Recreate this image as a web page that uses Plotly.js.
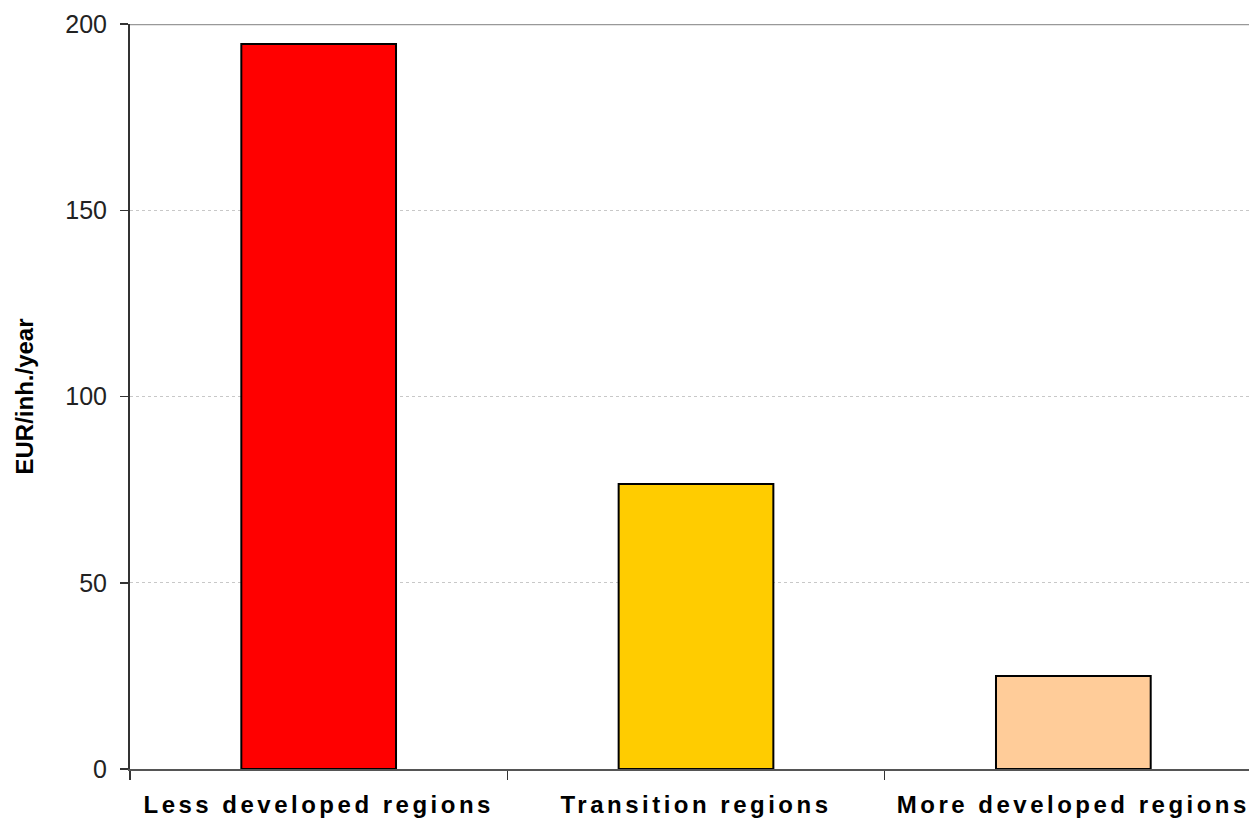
<!DOCTYPE html>
<html>
<head>
<meta charset="utf-8">
<script src="https://cdn.plot.ly/plotly-3.0.1.min.js"></script>
<style>
  body { margin: 0; background: #fff; }
  .xtick text { letter-spacing: 3.5px; }
</style>
</head>
<body>
<div id="chart" style="width:1249px;height:820px;"></div>
<script>
const categories = ["Less developed regions", "Transition regions", "More developed regions"];
const values = [194.6, 76.5, 25.0];
const barColors = ["#FF0000", "#FFCC00", "#FFCC99"];
const yTicks = [0, 50, 100, 150, 200];
const yTitle = "EUR/inh./year";

const trace = {
  type: "bar",
  x: categories,
  y: values,
  marker: { color: barColors, line: { color: "#000000", width: 2 } },
  width: 0.41,
  hoverinfo: "x+y"
};

const layout = {
  width: 1249,
  height: 820,
  margin: { l: 130, r: 0, t: 24, b: 51 },
  paper_bgcolor: "#ffffff",
  plot_bgcolor: "#ffffff",
  showlegend: false,
  font: { family: "Liberation Sans, Arial, sans-serif", color: "#222222" },
  xaxis: {
    type: "category",
    range: [-0.5, 2.4655],
    tickson: "boundaries",
    ticks: "outside",
    ticklen: 9,
    tickwidth: 1.5,
    tickcolor: "#333333",
    showline: true,
    linecolor: "#555555",
    linewidth: 2,
    showgrid: false,
    zeroline: false,
    ticklabelstandoff: 13,
    tickfont: { size: 24, color: "#000000", family: "Liberation Sans, Arial, sans-serif", weight: "bold" },
    automargin: false,
    fixedrange: true
  },
  yaxis: {
    range: [0, 200],
    tickvals: yTicks,
    ticks: "outside",
    ticklen: 8,
    tickwidth: 1.5,
    tickcolor: "#333333",
    showline: true,
    linecolor: "#333333",
    linewidth: 2,
    showgrid: true,
    gridcolor: "#c8c8c8",
    griddash: "dot",
    gridwidth: 1,
    zeroline: false,
    ticklabelstandoff: 8,
    tickfont: { size: 25, color: "#222222" },
    title: { text: yTitle, font: { size: 24, color: "#000000", weight: "bold" }, standoff: 25 },
    automargin: true,
    fixedrange: true
  },
  shapes: [
    { type: "line", xref: "paper", yref: "y", x0: 0, x1: 1, y0: 200, y1: 200,
      line: { color: "#999999", width: 2.5 } }
  ]
};

Plotly.newPlot("chart", [trace], layout, { displayModeBar: false, staticPlot: true });
</script>
</body>
</html>
